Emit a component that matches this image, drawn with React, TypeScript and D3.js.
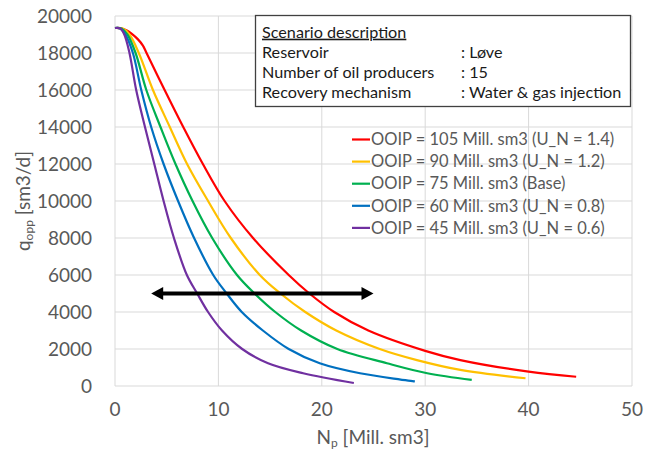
import React from "react";
import * as d3 from "d3";

type Pt = [number, number];

const xTicks = [0, 10, 20, 30, 40, 50];
const yTicks = [0, 2000, 4000, 6000, 8000, 10000, 12000, 14000, 16000, 18000, 20000];

const seriesLabels = [
  "OOIP = 105 Mill. sm3 (U_N = 1.4)",
  "OOIP = 90 Mill. sm3 (U_N = 1.2)",
  "OOIP = 75 Mill. sm3 (Base)",
  "OOIP = 60 Mill. sm3 (U_N = 0.8)",
  "OOIP = 45 Mill. sm3 (U_N = 0.6)",
];
const seriesColors = ["#ff0000", "#ffc000", "#00b050", "#0070c0", "#7030a0"];

const ooip105: Pt[] = [
  [0, 19350], [0.6, 19330], [1.2, 19200], [1.6, 19050], [2.2, 18750], [2.7, 18400], [3.05, 18000],
  [4.8, 16000], [6.6, 14000], [8.5, 12000], [10.6, 10000], [13.35, 8000], [16.8, 6000], [18.8, 5000],
  [21.2, 4000], [24.5, 3000], [30, 1900], [33.4, 1400], [40, 775], [44.6, 500],
];
const ooip90: Pt[] = [
  [0, 19350], [0.7, 19330], [1.4, 19000], [2.3, 18000], [3.67, 16000], [5.3, 14000], [6.97, 12000],
  [9.0, 10000], [11.2, 8000], [14.0, 6000], [16.0, 5000], [18.4, 4000], [21.4, 3000], [25.6, 2000],
  [29.2, 1400], [33.4, 870], [39.7, 420],
];
const ooip75: Pt[] = [
  [0, 19350], [0.6, 19330], [1.2, 19000], [1.99, 18000], [3.03, 16000], [4.4, 14000], [5.85, 12000],
  [7.5, 10000], [9.4, 8000], [11.8, 6000], [13.5, 5000], [15.5, 4000], [18.0, 3000], [21.5, 2000],
  [26.3, 1230], [30.2, 690], [34.5, 330],
];
const ooip60: Pt[] = [
  [0, 19350], [0.5, 19330], [1.0, 19000], [1.73, 18000], [2.54, 16000], [3.5, 14000], [4.7, 12000],
  [6.1, 10000], [7.65, 8000], [9.5, 6000], [10.8, 5000], [12.26, 4000], [14.3, 3000], [16.8, 2000],
  [19.8, 1230], [23.7, 690], [29.0, 250],
];
const ooip45: Pt[] = [
  [0, 19350], [0.5, 19330], [0.9, 19000], [1.4, 18000], [2.05, 16000], [2.9, 14000], [3.8, 12000],
  [4.7, 10000], [5.7, 8000], [6.95, 6000], [7.95, 5000], [9.0, 4000], [10.35, 3000], [12.3, 2000],
  [14.8, 1230], [18.2, 690], [23.1, 160],
];
const seriesData = [ooip105, ooip90, ooip75, ooip60, ooip45];

const arrowX: [number, number] = [3.5, 25.0];
const arrowY = 5000;

const boxRows: [string, string][] = [
  ["Reservoir", ": Løve"],
  ["Number of oil producers", ": 15"],
  ["Recovery mechanism", ": Water & gas injection"],
];
const boxTitle = "Scenario description";

const FONT = "Lato, 'Open Sans', sans-serif";

export default function App() {
  const W = 656, H = 454;
  const x = d3.scaleLinear().domain([0, 50]).range([115, 632]);
  const y = d3.scaleLinear().domain([0, 20000]).range([386, 16]);
  const line = d3
    .line<Pt>()
    .x((d) => x(d[0]))
    .y((d) => y(d[1]))
    .curve(d3.curveCatmullRom.alpha(0.5));

  const ax0 = x(arrowX[0]);
  const ax1 = x(arrowX[1]);
  const ay = y(arrowY);
  const head = 12;
  const hw = 6.5;

  return (
    <svg
      width={W}
      height={H}
      style={{ position: "absolute", left: 0, top: 0, background: "#fff" }}
      fontFamily={FONT}
    >
      <rect x={0} y={0} width={W} height={H} fill="#fff" />
      {xTicks.map((t) => (
        <line key={"gx" + t} x1={x(t)} x2={x(t)} y1={y(0)} y2={y(20000)} stroke="#d9d9d9" strokeWidth={1} />
      ))}
      {yTicks.map((t) => (
        <line key={"gy" + t} x1={x(0)} x2={x(50)} y1={y(t)} y2={y(t)} stroke="#d9d9d9" strokeWidth={1} />
      ))}
      {yTicks.map((t) => (
        <text key={"ty" + t} x={92} y={y(t)} dy="0.35em" textAnchor="end" fontSize={19} fill="#595959">
          {t}
        </text>
      ))}
      {xTicks.map((t) => (
        <text key={"tx" + t} x={x(t)} y={409} dy="0.35em" textAnchor="middle" fontSize={19} fill="#595959">
          {t}
        </text>
      ))}
      <text x={373} y={437} dy="0.35em" textAnchor="middle" fontSize={19} fill="#595959">
        N<tspan fontSize={12} dy="3">p</tspan>
        <tspan dy="-3"> [Mill. sm3]</tspan>
      </text>
      <text
        transform={`translate(23,201) rotate(-90)`}
        textAnchor="middle"
        dy="0.35em"
        fontSize={19}
        fill="#595959"
      >
        q<tspan fontSize={12} dy="3">opp</tspan>
        <tspan dy="-3"> [sm3/d]</tspan>
      </text>
      {seriesData.map((d, i) => (
        <path key={"s" + i} d={line(d) || ""} fill="none" stroke={seriesColors[i]} strokeWidth={2.2} />
      ))}
      <line x1={ax0 + head - 1} x2={ax1 - head + 1} y1={ay} y2={ay} stroke="#000" strokeWidth={4} />
      <path d={`M${ax0},${ay} L${ax0 + head},${ay - hw} L${ax0 + head},${ay + hw} Z`} fill="#000" />
      <path d={`M${ax1},${ay} L${ax1 - head},${ay - hw} L${ax1 - head},${ay + hw} Z`} fill="#000" />
      {seriesLabels.map((s, i) => {
        const cy = 139.5 + i * 22.1;
        return (
          <g key={"lg" + i}>
            <line x1={352} x2={370} y1={cy} y2={cy} stroke={seriesColors[i]} strokeWidth={2.2} />
            <text x={371} y={cy} dy="0.35em" fontSize={16.5} fill="#595959">
              {s}
            </text>
          </g>
        );
      })}
      <rect x={255.5} y={15.5} width={375} height={91} fill="#fff" stroke="#404040" strokeWidth={1.3} />
      <text x={262} y={32} dy="0.35em" fontSize={16.2} fill="#1a1a1a" textDecoration="underline">
        {boxTitle}
      </text>
      {boxRows.map((r, i) => (
        <g key={"br" + i}>
          <text x={262} y={52.3 + i * 19.8} dy="0.35em" fontSize={16.2} fill="#1a1a1a">
            {r[0]}
          </text>
          <text x={461} y={52.3 + i * 19.8} dy="0.35em" fontSize={16.2} fill="#1a1a1a">
            {r[1]}
          </text>
        </g>
      ))}
    </svg>
  );
}
